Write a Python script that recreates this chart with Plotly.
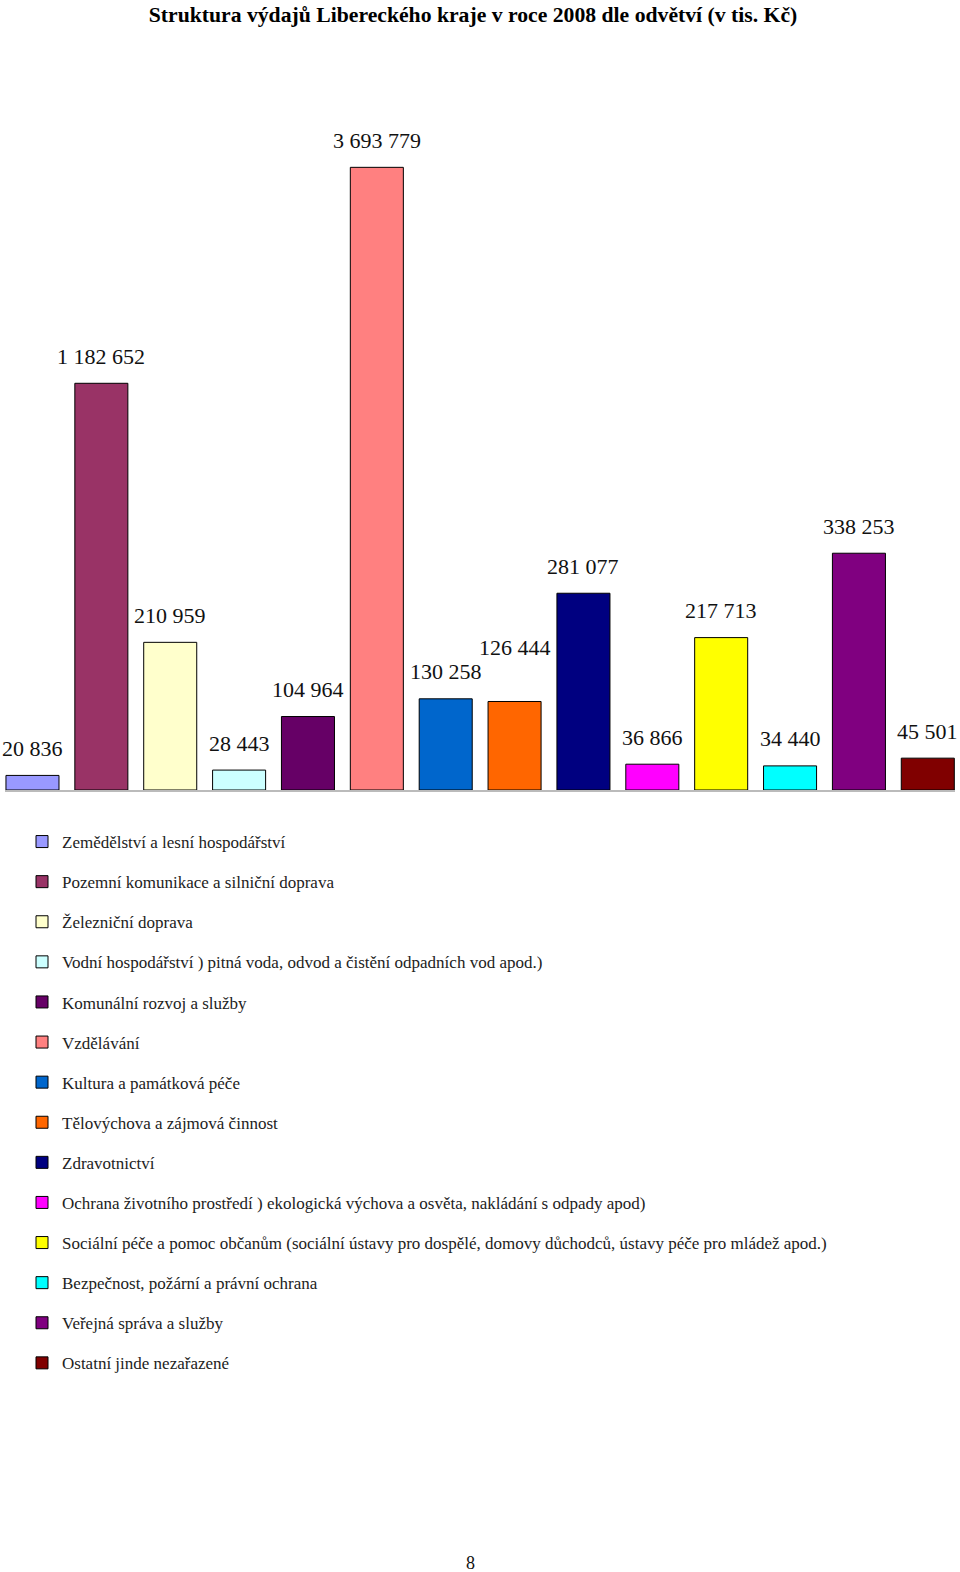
import plotly.graph_objects as go

categories = [
    "Zemědělství a lesní hospodářství",
    "Pozemní komunikace a silniční doprava",
    "Železniční doprava",
    "Vodní hospodářství ) pitná voda, odvod a čistění odpadních vod apod.)",
    "Komunální rozvoj a služby",
    "Vzdělávání",
    "Kultura a památková péče",
    "Tělovýchova a zájmová činnost",
    "Zdravotnictví",
    "Ochrana životního prostředí ) ekologická výchova a osvěta, nakládání s odpady apod)",
    "Sociální péče a pomoc občanům (sociální ústavy pro dospělé, domovy důchodců, ústavy péče pro mládež apod.)",
    "Bezpečnost, požární a právní ochrana",
    "Veřejná správa a služby",
    "Ostatní jinde nezařazené",
]
# values shown in the labels (tis. Kč)
values = [20836, 1182652, 210959, 28443, 104964, 3693779, 130258, 126444,
          281077, 36866, 217713, 34440, 338253, 45501]
# heights as drawn in the reference (the two tallest bars are compressed there)
drawn = [20836, 581000, 210959, 28443, 104964, 889500, 130258, 126444,
         281077, 36866, 217713, 34440, 338253, 45501]
colors = ["#9999FF", "#993366", "#FFFFCC", "#CCFFFF", "#660066", "#FF8080",
          "#0066CC", "#FF6600", "#000080", "#FF00FF", "#FFFF00", "#00FFFF",
          "#800080", "#800000"]
label_shift = [27, 27, 27, 27, 27, 27, 27, 54, 27, 27, 27, 27, 27, 27]

def fmt(v):
    return f"{v:,}".replace(",", " ")

W, H = 960, 1572
PL, PT, PH, PW = 5, 100, 690, 950

fig = go.Figure()
for i, (c, d, col) in enumerate(zip(categories, drawn, colors)):
    fig.add_trace(go.Bar(
        x=[i], y=[d], name=c, marker=dict(color=col, line=dict(color="black", width=1)),
        legendgroup=f"g{i}", hoverinfo="skip", width=0.77,
    ))

annotations = []
for i, (v, d, s) in enumerate(zip(values, drawn, label_shift)):
    annotations.append(dict(x=i, y=d, xref="x", yref="y", text=fmt(v), showarrow=False,
                            yanchor="middle", yshift=s,
                            font=dict(family="Liberation Serif", size=22, color="#111")))
annotations.append(dict(x=(470 - PL) / PW, y=(PT + PH - 1563) / PH, xref="paper", yref="paper",
                        text="8", showarrow=False, xanchor="center", yanchor="middle",
                        font=dict(family="Liberation Serif", size=18, color="#111")))

fig.update_layout(
    width=W, height=H,
    margin=dict(l=PL, r=W - PL - PW, t=PT, b=H - PT - PH, autoexpand=False),
    paper_bgcolor="white", plot_bgcolor="white",
    title=dict(text="Struktura výdajů Libereckého kraje v roce 2008 dle odvětví (v tis. Kč)",
               x=473 / W, xanchor="center", xref="container", y=1 - 14 / H, yanchor="middle",
               yref="container",
               font=dict(family="Liberation Serif", size=21.7, color="black", weight="bold")),
    xaxis=dict(range=[-0.399, 13.395], showticklabels=False, showgrid=False, zeroline=False,
               showline=True, linecolor="#BBBBBB", linewidth=1.5, ticks=""),
    yaxis=dict(range=[0, 985700], visible=False),
    showlegend=True,
    legend=dict(xref="container", yref="container", x=22 / W, y=1 - 824 / H,
                xanchor="left", yanchor="top", traceorder="grouped", tracegroupgap=15,
                font=dict(family="Liberation Serif", size=17, color="#222"),
                bgcolor="rgba(0,0,0,0)"),
    annotations=annotations,
)
fig.write_html("out.html", config={"displayModeBar": False},
               post_script="document.body.style.margin='0';")
